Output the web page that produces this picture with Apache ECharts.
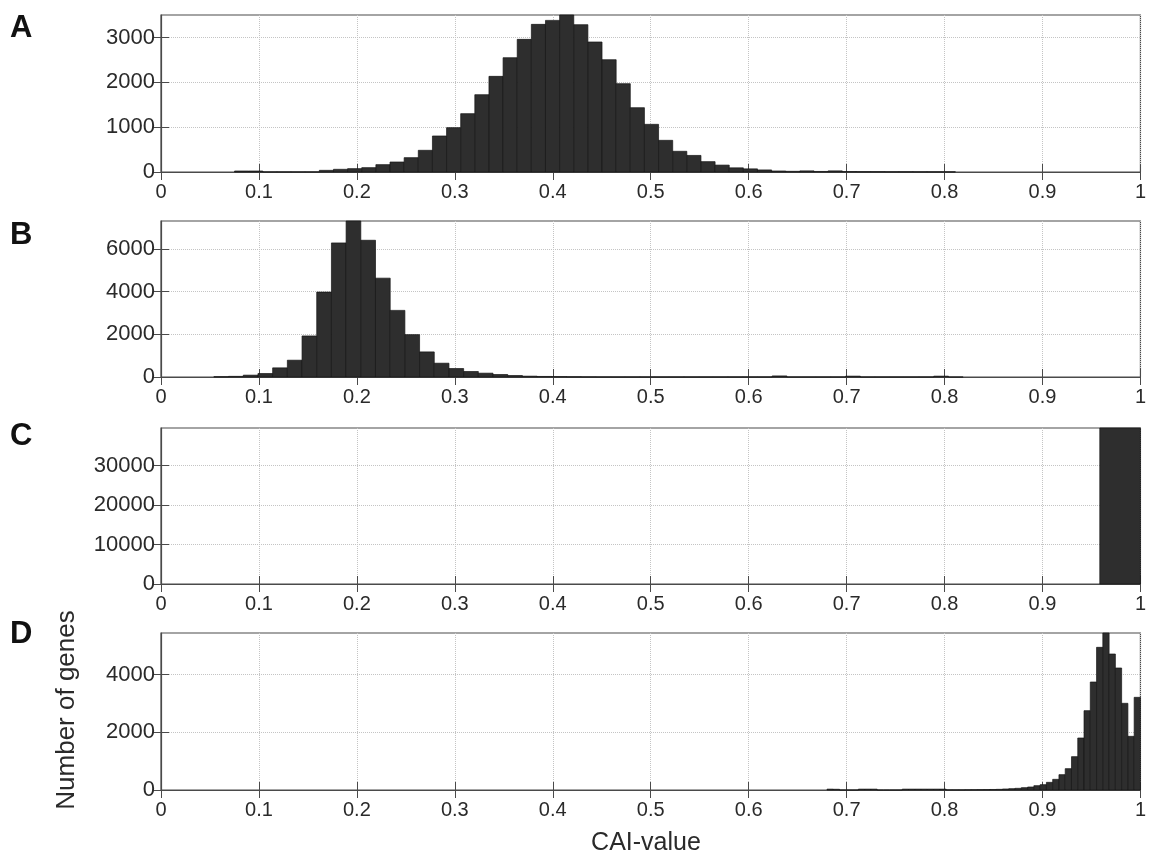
<!DOCTYPE html>
<html>
<head>
<meta charset="utf-8">
<script src="https://cdn.jsdelivr.net/npm/echarts@6/dist/echarts.min.js"></script>
<style>
    html, body {margin: 0; padding: 0; background: #fff;}
    #chart {width: 1149px; height: 855px;}
</style>
</head>
<body>
<div id="chart"></div>
<script>
    // panel letters
    var panelNames = ['A', 'B', 'C', 'D'];

    // histogram A: first bin left edge, bin width, counts
    var startA = 0.0751, widthA = 0.01443;
    var countsA = [22, 22, 3, 3, 3, 3, 37, 60, 75, 97, 164, 223, 320, 484, 804, 990,
        1302, 1726, 2135, 2552, 2961, 3296, 3385, 3505, 3289, 2902, 2507, 1972, 1436,
        1064, 707, 462, 370, 231, 154, 93, 70, 46, 23, 15, 25, 12, 25, 10, 8, 8, 6, 6, 5, 5, 5];

    // histogram B
    var startB = 0.054, widthB = 0.015;
    var countsB = [15, 30, 86, 163, 428, 786, 1922, 3976, 6279, 7306, 6403, 4629, 3120,
        1984, 1175, 646, 397, 257, 179, 117, 70, 39, 25, 18, 12, 8, 5, 5, 5, 5, 5, 5, 5,
        5, 5, 5, 5, 5, 50, 3, 3, 3, 3, 40, 3, 3, 3, 3, 3, 40, 0];

    // histogram C (one filled bin at the top end)
    var startC = 0.9585, widthC = 0.0415;
    var countsC = [39500];

    // histogram D
    var startD = 0.68, widthD = 0.0064;
    var countsD = [30, 25, 0, 0, 0, 30, 30, 30, 0, 0, 0, 0, 30, 30, 30, 30, 30, 30, 30,
        5, 5, 5, 8, 10, 12, 15, 18, 23, 35, 46, 58, 81, 104, 150, 185, 266, 370, 532, 740,
        1156, 1803, 2751, 3745, 4948, 5445, 4716, 4231, 3006, 1861, 3214];

    // y axis: top of each panel and tick values
    var yMaxes = [3505, 7306, 39500, 5445];
    var yTicksA = [0, 1000, 2000, 3000];
    var yTicksB = [0, 2000, 4000, 6000];
    var yTicksC = [0, 10000, 20000, 30000];
    var yTicksD = [0, 2000, 4000];

    // x axis ticks 0 .. 1
    var xMin = 0, xMax = 1, xStep = 0.1;

    var hists = [
        {start: startA, width: widthA, counts: countsA},
        {start: startB, width: widthB, counts: countsB},
        {start: startC, width: widthC, counts: countsC},
        {start: startD, width: widthD, counts: countsD}
    ];
    var yTicks = [yTicksA, yTicksB, yTicksC, yTicksD];

    var panelTops = [15, 221, 428, 633];
    var panelHeights = [157, 156, 156, 157];
    var letterTops = [13, 220, 421, 619];

    var axisColor = '#4a4a4a';
    var labelColor = '#2a2a2a';
    var gridColor = '#c4c4c4';
    var fontFamily = 'Liberation Sans, Arial, sans-serif';

    function toBins(h) {  // [left edge, right edge, count]
        var out = [];
        for (var i = 0; i < h.counts.length; i++)
            out.push([h.start + i * h.width, h.start + (i + 1) * h.width, h.counts[i]]);
        return out;
    }

    function renderBar(params, api) {
        var p0 = api.coord([api.value(0), api.value(2)]);
        var p1 = api.coord([api.value(1), 0]);
        return {
            type: 'rect',
            shape: {x: p0[0], y: p0[1], width: p1[0] - p0[0], height: p1[1] - p0[1]},
            style: {fill: '#2e2e2e', stroke: '#151515', lineWidth: 0.7}
        };
    }

    var grids = [], xAxes = [], yAxes = [], series = [], graphics = [];
    for (var i = 0; i < 4; i++) {
        // grid border draws the box, the extra axes only add the inward ticks
        grids.push({left: 161, right: 6, top: panelTops[i], height: panelHeights[i],
            show: true, borderColor: axisColor, borderWidth: 1.2, backgroundColor: 'transparent'});

        xAxes.push({
            type: 'value', gridIndex: i, min: xMin, max: xMax, interval: xStep,
            axisLine: {show: true, onZero: false, lineStyle: {color: axisColor, width: 1.2}},
            axisTick: {show: true, inside: true, length: 8, lineStyle: {color: axisColor}},
            axisLabel: {color: labelColor, fontSize: 20, fontFamily: fontFamily, margin: 10},
            splitLine: {show: true, lineStyle: {color: gridColor, type: 'dotted', width: 1}}
        });
        xAxes.push({
            type: 'value', gridIndex: i, min: xMin, max: xMax, interval: xStep, position: 'top',
            axisLine: {show: false},
            axisTick: {show: true, inside: true, length: 8, lineStyle: {color: axisColor}},
            axisLabel: {show: false},
            splitLine: {show: false}
        });

        yAxes.push({
            type: 'value', gridIndex: i, min: 0, max: yMaxes[i],
            axisLine: {show: true, lineStyle: {color: axisColor, width: 1.2}},
            axisTick: {show: true, inside: true, length: 8, customValues: yTicks[i],
                lineStyle: {color: axisColor}},
            axisLabel: {color: labelColor, fontSize: 22, fontFamily: fontFamily, margin: 6,
                customValues: yTicks[i], formatter: function (v) { return String(v); }},
            splitLine: {show: true, lineStyle: {color: gridColor, type: 'dotted', width: 1}}
        });
        yAxes.push({
            type: 'value', gridIndex: i, min: 0, max: yMaxes[i], position: 'right',
            axisLine: {show: false},
            axisTick: {show: true, inside: true, length: 8, customValues: yTicks[i],
                lineStyle: {color: axisColor}},
            axisLabel: {show: false},
            splitLine: {show: false}
        });

        series.push({
            type: 'custom', xAxisIndex: i * 2, yAxisIndex: i * 2,
            renderItem: renderBar, encode: {x: [0, 1], y: 2},
            data: toBins(hists[i]), silent: true, z: 1
        });

        graphics.push({
            type: 'text', left: 10, top: letterTops[i],
            style: {text: panelNames[i], fill: '#111', font: 'bold 31px ' + fontFamily}
        });
    }

    graphics.push({
        type: 'text', x: 67, y: 710, rotation: Math.PI / 2,
        style: {text: 'Number of genes', fill: labelColor, font: '26px ' + fontFamily,
            textAlign: 'center', textVerticalAlign: 'middle'}
    });
    graphics.push({
        type: 'text', x: 646, y: 843,
        style: {text: 'CAI-value', fill: labelColor, font: '25px ' + fontFamily,
            textAlign: 'center', textVerticalAlign: 'middle'}
    });

    var chart = echarts.init(document.getElementById('chart'));
    chart.setOption({
        animation: false,
        backgroundColor: '#fff',
        grid: grids,
        xAxis: xAxes,
        yAxis: yAxes,
        series: series,
        graphic: graphics
    });
</script>
</body>
</html>
